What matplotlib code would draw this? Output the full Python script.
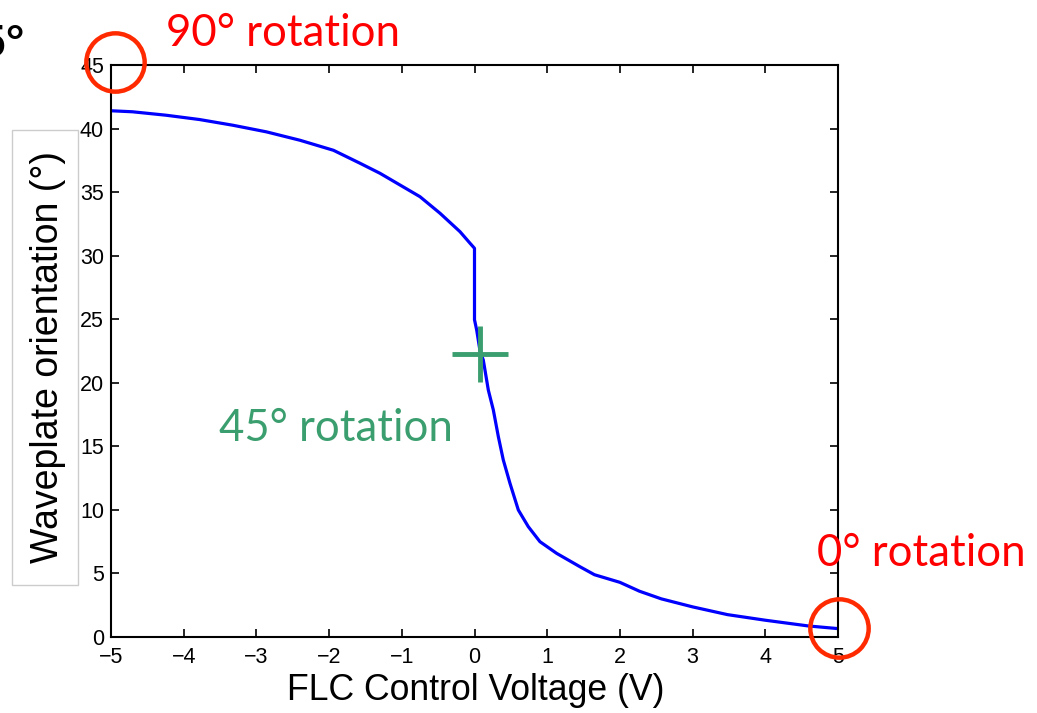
import numpy as np
import matplotlib
matplotlib.use('Agg')
import matplotlib.pyplot as plt
from matplotlib.patches import Rectangle

# FLC control voltage (V) and waveplate orientation (deg)
voltage = [-5, -4.705, -4.244, -3.783, -3.323, -2.862, -2.401, -1.94, -1.575, -1.30,
           -1.025, -0.75, -0.475, -0.20, -0.062, 0.0, 0.0, 0.03, 0.076, 0.121, 0.19,
           0.259, 0.328, 0.396, 0.488, 0.603, 0.74, 0.90, 1.13, 1.45, 1.65, 2.0, 2.27,
           2.57, 3.0, 3.48, 4.0, 4.59, 5.0]
angle = [41.4, 41.32, 41.05, 40.71, 40.26, 39.74, 39.08, 38.29, 37.27, 36.48,
         35.56, 34.64, 33.34, 31.89, 30.98, 30.58, 24.96, 24.15, 22.5, 21.79, 19.43,
         17.86, 15.76, 13.93, 12.09, 9.99, 8.68, 7.50, 6.58, 5.53, 4.9, 4.3, 3.6,
         3.0, 2.37, 1.76, 1.32, 0.87, 0.66]

xticks = list(range(-5, 6))
yticks = list(range(0, 46, 5))

# annotation points
circle_pts = [(-4.94, 45.25), (5.01, 0.67)]
cross_pt = (0.076, 22.3)

W, H = 1037, 713
fig = plt.figure(figsize=(W / 100, H / 100), dpi=100)
ax = fig.add_axes([111 / W, 1 - 637 / H, 727 / W, 572 / H])

ax.plot(voltage, angle, color='#0000ff', lw=2.3)
ax.set_xlim(-5, 5)
ax.set_ylim(0, 45)
ax.set_xticks(xticks)
ax.set_yticks(yticks)
ax.set_xticklabels(['\u2212%d' % -t if t < 0 else str(t) for t in xticks])
ax.tick_params(direction='in', length=6, width=1.2, top=True, right=True,
               labelsize=15.5)
ax.tick_params(axis='x', pad=7)
ax.tick_params(axis='y', pad=5)
for lbl in ax.get_xticklabels() + ax.get_yticklabels():
    lbl.set_family('Liberation Sans')
for s in ax.spines.values():
    s.set_linewidth(1.5)

# marker cross at the midpoint
ax.plot(*cross_pt, marker='+', ms=40, mew=3.5, color='#3a9e6e', zorder=5)

# red circles at the ends
for cx, cy in circle_pts:
    ax.plot(cx, cy, marker='o', ms=42, mfc='none', mec='#ff2a00', mew=3.2,
            clip_on=False, zorder=6)

# label texts
fig.text(166 / W, 1 - 46 / H, '90° rotation', color='#ff0000', fontsize=31.5,
         family='Lato', ha='left', va='baseline')
fig.text(817 / W, 1 - 566 / H, '0° rotation', color='#ff0000', fontsize=31.5,
         family='Lato', ha='left', va='baseline')
fig.text(219 / W, 1 - 441 / H, '45° rotation', color='#3a9e6e', fontsize=31.5,
         family='Lato', ha='left', va='baseline')
fig.text(25 / W, 1 - 57 / H, '45°', color='black', fontsize=34, fontweight='bold',
         family='Liberation Sans', ha='right', va='baseline')

# axis labels
fig.add_artist(Rectangle((12 / W, 1 - 585 / H), 66 / W, 455 / H,
                         transform=fig.transFigure, fc='white', ec='#cccccc', lw=1))
fig.text(48 / W, 1 - 357 / H, 'Waveplate orientation (°)', rotation=90,
         fontsize=27, family='Liberation Sans', ha='center', va='center')
fig.text(476 / W, 1 - 690 / H, 'FLC Control Voltage (V)', fontsize=25.7,
         family='Liberation Sans', ha='center', va='center')

fig.savefig('out.png', dpi=100)
